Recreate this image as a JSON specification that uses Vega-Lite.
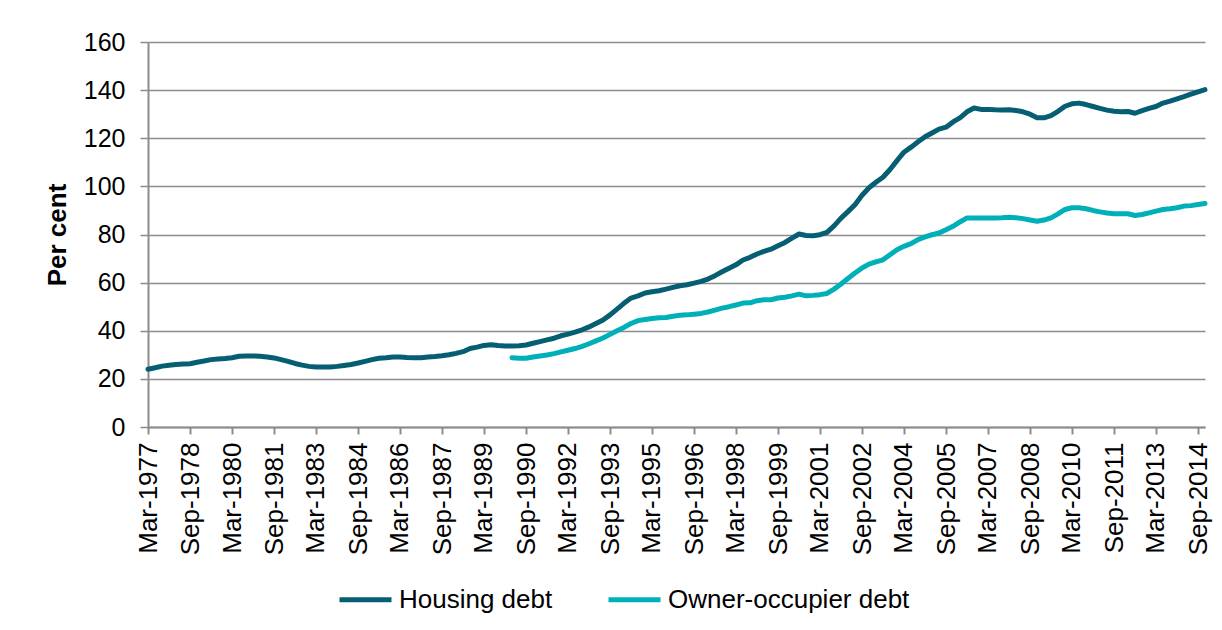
{
  "$schema": "https://vega.github.io/schema/vega-lite/v6.json",
  "width": 1057,
  "height": 385,
  "autosize": {"type": "none"},
  "padding": {"left": 148, "top": 42, "right": 17, "bottom": 203},
  "background": "white",
  "config": {
    "font": "Liberation Sans",
    "view": {"stroke": null},
    "axis": {"labelFont": "Liberation Sans", "titleFont": "Liberation Sans"}
  },
  "data": {
    "values": [
      {"d": "1977-03-01", "housing": 24.0},
      {"d": "1977-06-01", "housing": 24.6},
      {"d": "1977-09-01", "housing": 25.3},
      {"d": "1977-12-01", "housing": 25.7},
      {"d": "1978-03-01", "housing": 26.0},
      {"d": "1978-06-01", "housing": 26.2},
      {"d": "1978-09-01", "housing": 26.3},
      {"d": "1978-12-01", "housing": 26.9},
      {"d": "1979-03-01", "housing": 27.4},
      {"d": "1979-06-01", "housing": 28.0},
      {"d": "1979-09-01", "housing": 28.3},
      {"d": "1979-12-01", "housing": 28.5},
      {"d": "1980-03-01", "housing": 28.8},
      {"d": "1980-06-01", "housing": 29.4},
      {"d": "1980-09-01", "housing": 29.5},
      {"d": "1980-12-01", "housing": 29.5},
      {"d": "1981-03-01", "housing": 29.4},
      {"d": "1981-06-01", "housing": 29.1},
      {"d": "1981-09-01", "housing": 28.7},
      {"d": "1981-12-01", "housing": 28.0},
      {"d": "1982-03-01", "housing": 27.3},
      {"d": "1982-06-01", "housing": 26.4},
      {"d": "1982-09-01", "housing": 25.7},
      {"d": "1982-12-01", "housing": 25.2},
      {"d": "1983-03-01", "housing": 24.9},
      {"d": "1983-06-01", "housing": 24.9},
      {"d": "1983-09-01", "housing": 24.9},
      {"d": "1983-12-01", "housing": 25.2},
      {"d": "1984-03-01", "housing": 25.6},
      {"d": "1984-06-01", "housing": 26.0},
      {"d": "1984-09-01", "housing": 26.6},
      {"d": "1984-12-01", "housing": 27.3},
      {"d": "1985-03-01", "housing": 28.0},
      {"d": "1985-06-01", "housing": 28.6},
      {"d": "1985-09-01", "housing": 28.8},
      {"d": "1985-12-01", "housing": 29.1},
      {"d": "1986-03-01", "housing": 29.1},
      {"d": "1986-06-01", "housing": 28.9},
      {"d": "1986-09-01", "housing": 28.8},
      {"d": "1986-12-01", "housing": 28.8},
      {"d": "1987-03-01", "housing": 29.1},
      {"d": "1987-06-01", "housing": 29.3},
      {"d": "1987-09-01", "housing": 29.6},
      {"d": "1987-12-01", "housing": 30.0},
      {"d": "1988-03-01", "housing": 30.6},
      {"d": "1988-06-01", "housing": 31.3},
      {"d": "1988-09-01", "housing": 32.6},
      {"d": "1988-12-01", "housing": 33.2},
      {"d": "1989-03-01", "housing": 33.9},
      {"d": "1989-06-01", "housing": 34.2},
      {"d": "1989-09-01", "housing": 33.9},
      {"d": "1989-12-01", "housing": 33.7},
      {"d": "1990-03-01", "housing": 33.7, "owner": 28.8},
      {"d": "1990-06-01", "housing": 33.8, "owner": 28.6},
      {"d": "1990-09-01", "housing": 34.1, "owner": 28.6},
      {"d": "1990-12-01", "housing": 34.8, "owner": 29.1},
      {"d": "1991-03-01", "housing": 35.5, "owner": 29.5},
      {"d": "1991-06-01", "housing": 36.2, "owner": 29.9},
      {"d": "1991-09-01", "housing": 36.9, "owner": 30.5},
      {"d": "1991-12-01", "housing": 37.9, "owner": 31.2},
      {"d": "1992-03-01", "housing": 38.6, "owner": 31.9},
      {"d": "1992-06-01", "housing": 39.4, "owner": 32.6},
      {"d": "1992-09-01", "housing": 40.4, "owner": 33.5},
      {"d": "1992-12-01", "housing": 41.6, "owner": 34.6},
      {"d": "1993-03-01", "housing": 43.0, "owner": 35.8},
      {"d": "1993-06-01", "housing": 44.5, "owner": 37.0},
      {"d": "1993-09-01", "housing": 46.6, "owner": 38.5},
      {"d": "1993-12-01", "housing": 49.0, "owner": 40.0},
      {"d": "1994-03-01", "housing": 51.4, "owner": 41.4},
      {"d": "1994-06-01", "housing": 53.6, "owner": 43.0},
      {"d": "1994-09-01", "housing": 54.5, "owner": 44.2},
      {"d": "1994-12-01", "housing": 55.7, "owner": 44.7},
      {"d": "1995-03-01", "housing": 56.2, "owner": 45.1},
      {"d": "1995-06-01", "housing": 56.6, "owner": 45.4},
      {"d": "1995-09-01", "housing": 57.3, "owner": 45.5},
      {"d": "1995-12-01", "housing": 58.0, "owner": 46.0},
      {"d": "1996-03-01", "housing": 58.7, "owner": 46.4},
      {"d": "1996-06-01", "housing": 59.1, "owner": 46.6},
      {"d": "1996-09-01", "housing": 59.8, "owner": 46.9},
      {"d": "1996-12-01", "housing": 60.5, "owner": 47.2},
      {"d": "1997-03-01", "housing": 61.5, "owner": 47.8},
      {"d": "1997-06-01", "housing": 62.9, "owner": 48.6},
      {"d": "1997-09-01", "housing": 64.5, "owner": 49.4},
      {"d": "1997-12-01", "housing": 66.0, "owner": 50.0},
      {"d": "1998-03-01", "housing": 67.4, "owner": 50.7},
      {"d": "1998-06-01", "housing": 69.4, "owner": 51.5},
      {"d": "1998-09-01", "housing": 70.5, "owner": 51.6},
      {"d": "1998-12-01", "housing": 71.9, "owner": 52.5},
      {"d": "1999-03-01", "housing": 73.0, "owner": 52.9},
      {"d": "1999-06-01", "housing": 73.9, "owner": 52.9},
      {"d": "1999-09-01", "housing": 75.3, "owner": 53.6},
      {"d": "1999-12-01", "housing": 76.7, "owner": 53.9},
      {"d": "2000-03-01", "housing": 78.5, "owner": 54.5},
      {"d": "2000-06-01", "housing": 80.2, "owner": 55.2},
      {"d": "2000-09-01", "housing": 79.6, "owner": 54.5},
      {"d": "2000-12-01", "housing": 79.5, "owner": 54.7},
      {"d": "2001-03-01", "housing": 79.9, "owner": 55.0},
      {"d": "2001-06-01", "housing": 80.9, "owner": 55.5},
      {"d": "2001-09-01", "housing": 83.6, "owner": 57.3},
      {"d": "2001-12-01", "housing": 86.8, "owner": 59.4},
      {"d": "2002-03-01", "housing": 89.5, "owner": 61.7},
      {"d": "2002-06-01", "housing": 92.4, "owner": 64.0},
      {"d": "2002-09-01", "housing": 96.3, "owner": 66.1},
      {"d": "2002-12-01", "housing": 99.4, "owner": 67.7},
      {"d": "2003-03-01", "housing": 101.7, "owner": 68.6},
      {"d": "2003-06-01", "housing": 103.8, "owner": 69.5},
      {"d": "2003-09-01", "housing": 107.0, "owner": 71.6},
      {"d": "2003-12-01", "housing": 110.7, "owner": 73.7},
      {"d": "2004-03-01", "housing": 114.2, "owner": 75.1},
      {"d": "2004-06-01", "housing": 116.3, "owner": 76.2},
      {"d": "2004-09-01", "housing": 118.5, "owner": 77.9},
      {"d": "2004-12-01", "housing": 120.6, "owner": 79.0},
      {"d": "2005-03-01", "housing": 122.2, "owner": 79.9},
      {"d": "2005-06-01", "housing": 123.8, "owner": 80.6},
      {"d": "2005-09-01", "housing": 124.6, "owner": 82.0},
      {"d": "2005-12-01", "housing": 126.8, "owner": 83.4},
      {"d": "2006-03-01", "housing": 128.5, "owner": 85.2},
      {"d": "2006-06-01", "housing": 131.0, "owner": 86.9},
      {"d": "2006-09-01", "housing": 132.6, "owner": 86.9},
      {"d": "2006-12-01", "housing": 132.0, "owner": 86.9},
      {"d": "2007-03-01", "housing": 132.0, "owner": 86.9},
      {"d": "2007-06-01", "housing": 131.8, "owner": 86.9},
      {"d": "2007-09-01", "housing": 131.7, "owner": 87.0},
      {"d": "2007-12-01", "housing": 131.8, "owner": 87.2},
      {"d": "2008-03-01", "housing": 131.5, "owner": 87.0},
      {"d": "2008-06-01", "housing": 131.0, "owner": 86.6},
      {"d": "2008-09-01", "housing": 130.0, "owner": 86.0},
      {"d": "2008-12-01", "housing": 128.5, "owner": 85.5},
      {"d": "2009-03-01", "housing": 128.5, "owner": 86.0},
      {"d": "2009-06-01", "housing": 129.4, "owner": 86.9},
      {"d": "2009-09-01", "housing": 131.2, "owner": 88.6},
      {"d": "2009-12-01", "housing": 133.3, "owner": 90.4},
      {"d": "2010-03-01", "housing": 134.3, "owner": 91.1},
      {"d": "2010-06-01", "housing": 134.6, "owner": 91.1},
      {"d": "2010-09-01", "housing": 134.0, "owner": 90.7},
      {"d": "2010-12-01", "housing": 133.2, "owner": 90.0},
      {"d": "2011-03-01", "housing": 132.4, "owner": 89.4},
      {"d": "2011-06-01", "housing": 131.7, "owner": 88.9},
      {"d": "2011-09-01", "housing": 131.2, "owner": 88.6},
      {"d": "2011-12-01", "housing": 131.0, "owner": 88.6},
      {"d": "2012-03-01", "housing": 131.1, "owner": 88.6},
      {"d": "2012-06-01", "housing": 130.4, "owner": 87.9},
      {"d": "2012-09-01", "housing": 131.5, "owner": 88.3},
      {"d": "2012-12-01", "housing": 132.4, "owner": 89.0},
      {"d": "2013-03-01", "housing": 133.2, "owner": 89.7},
      {"d": "2013-06-01", "housing": 134.6, "owner": 90.4},
      {"d": "2013-09-01", "housing": 135.4, "owner": 90.7},
      {"d": "2013-12-01", "housing": 136.4, "owner": 91.1},
      {"d": "2014-03-01", "housing": 137.3, "owner": 91.8},
      {"d": "2014-06-01", "housing": 138.3, "owner": 92.0},
      {"d": "2014-09-01", "housing": 139.3, "owner": 92.5},
      {"d": "2014-12-01", "housing": 140.2, "owner": 92.9}
    ]
  },
  "transform": [
    {"fold": ["housing", "owner"], "as": ["series", "value"]},
    {"filter": "isValid(datum.value)"}
  ],
  "mark": {"type": "line", "strokeWidth": 5, "strokeCap": "round", "strokeJoin": "round", "interpolate": "linear"},
  "encoding": {
    "x": {
      "field": "d",
      "type": "temporal",
      "scale": {"type": "utc", "domain": ["1977-03-01", "2014-12-01"], "nice": false},
      "axis": {
        "title": null,
        "values": [
          "1977-03-01", "1978-09-01", "1980-03-01", "1981-09-01", "1983-03-01", "1984-09-01",
          "1986-03-01", "1987-09-01", "1989-03-01", "1990-09-01", "1992-03-01", "1993-09-01",
          "1995-03-01", "1996-09-01", "1998-03-01", "1999-09-01", "2001-03-01", "2002-09-01",
          "2004-03-01", "2005-09-01", "2007-03-01", "2008-09-01", "2010-03-01", "2011-09-01",
          "2013-03-01", "2014-09-01"
        ],
        "labelExpr": "utcFormat(datum.value, '%b-%Y')",
        "labelAngle": -90,
        "labelAlign": "right",
        "labelBaseline": "middle",
        "labelFontSize": 26,
        "labelColor": "#000000",
        "labelPadding": 8,
        "labelOverlap": false,
        "labelBound": false,
        "labelFlush": false,
        "grid": false,
        "domainColor": "#8c8c8c",
        "domainWidth": 2,
        "tickColor": "#8c8c8c",
        "tickWidth": 2,
        "tickSize": 7
      }
    },
    "y": {
      "field": "value",
      "type": "quantitative",
      "scale": {"domain": [0, 160], "nice": false, "zero": true},
      "axis": {
        "title": "Per cent",
        "titleFontSize": 26,
        "titleFontWeight": "bold",
        "titleColor": "#000000",
        "titlePadding": 13,
        "values": [0, 20, 40, 60, 80, 100, 120, 140, 160],
        "labelFontSize": 25,
        "labelColor": "#000000",
        "labelPadding": 15,
        "grid": true,
        "gridColor": "#8c8c8c",
        "gridWidth": 1.5,
        "domainColor": "#8c8c8c",
        "domainWidth": 2,
        "tickColor": "#8c8c8c",
        "tickWidth": 1.5,
        "tickSize": 8
      }
    },
    "color": {
      "field": "series",
      "type": "nominal",
      "scale": {"domain": ["housing", "owner"], "range": ["#065e72", "#00b0b8"]},
      "legend": {
        "title": null,
        "orient": "none",
        "legendX": 189,
        "legendY": 529,
        "direction": "horizontal",
        "columns": 2,
        "symbolType": "stroke",
        "symbolSize": 2704,
        "symbolStrokeWidth": 5,
        "labelExpr": "datum.label == 'housing' ? 'Housing debt' : 'Owner-occupier debt'",
        "labelFontSize": 26,
        "labelFont": "Liberation Sans",
        "labelColor": "#000000",
        "labelOffset": 5,
        "labelLimit": 400,
        "columnPadding": 45,
        "padding": 0
      }
    }
  }
}
